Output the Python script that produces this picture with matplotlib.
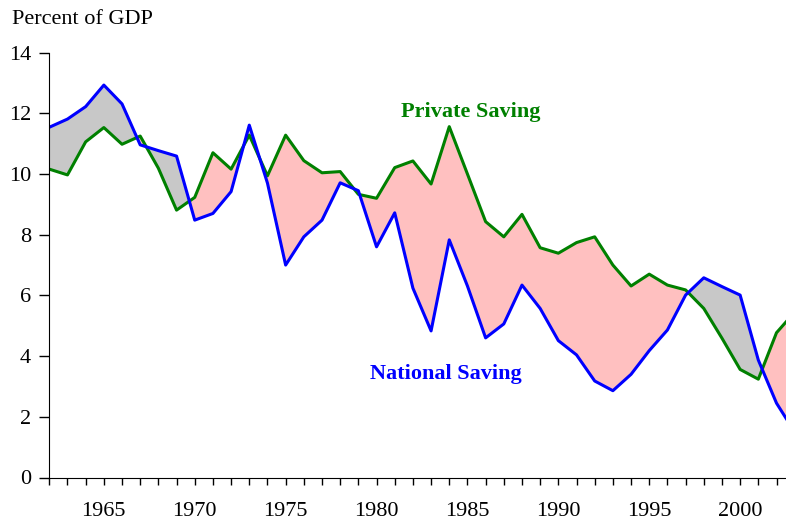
import numpy as np
import matplotlib.pyplot as plt
from matplotlib.ticker import MultipleLocator

############################################

years = np.arange(1962, 2004)
private = [10.16, 9.97, 11.06, 11.53, 10.98, 11.25, 10.19, 8.81, 9.23, 10.70,
           10.16, 11.28, 9.94, 11.28, 10.44, 10.04, 10.08, 9.33, 9.20, 10.21,
           10.43, 9.67, 11.56, 10.00, 8.43, 7.93, 8.67, 7.57, 7.39, 7.74,
           7.93, 7.00, 6.31, 6.70, 6.34, 6.18, 5.57, 4.59, 3.56, 3.24,
           4.77, 5.45]
national = [11.54, 11.81, 12.22, 12.93, 12.31, 10.96, 10.77, 10.59, 8.48, 8.70,
            9.42, 11.61, 9.70, 7.00, 7.93, 8.48, 9.71, 9.45, 7.60, 8.72,
            6.24, 4.83, 7.83, 6.31, 4.60, 5.06, 6.34, 5.57, 4.51, 4.04,
            3.18, 2.86, 3.40, 4.18, 4.86, 6.01, 6.58, 6.29, 6.01, 3.87,
            2.45, 1.50]

############################################

plt.rcParams['font.family'] = ['Liberation Serif', 'DejaVu Serif']

fig = plt.figure(figsize=(7.86, 5.21), dpi=100)
ax = fig.add_axes([49.3 / 786, (521 - 477.5) / 521, 1 - 49.3 / 786, (477.5 - 52.6) / 521])

p = np.array(private)
n = np.array(national)
ax.fill_between(years, p, n, where=n >= p, interpolate=True, color='#c8c8c8', lw=0)
ax.fill_between(years, p, n, where=p >= n, interpolate=True, color='#ffc0c0', lw=0)
ax.plot(years, private, color='#008000', lw=2.2)
ax.plot(years, national, color='#0000ff', lw=2.2)

ax.set_xlim(1962, 1962 + (786 - 49.3) / 18.18)
ax.set_ylim(0, 14)
ax.set_yticks(range(0, 15, 2))
ax.xaxis.set_major_locator(MultipleLocator(5))
ax.xaxis.set_minor_locator(MultipleLocator(1))
ax.tick_params(axis='x', which='both', direction='out', length=5, width=1, pad=13, labelsize=16)
ax.tick_params(axis='y', direction='out', length=7, width=1, pad=6, labelsize=16)

for s in ['top', 'right']:
    ax.spines[s].set_visible(False)

fig.text(12 / 786, 1 - 20 / 521, 'Percent of GDP', fontsize=16, va='center', ha='left')
ax.text(1985.2, 12.05, 'Private Saving', color='#008000', fontsize=16,
        fontweight='bold', ha='center', va='center')
ax.text(1983.8, 3.4, 'National Saving', color='#0000ff', fontsize=16,
        fontweight='bold', ha='center', va='center')

plt.savefig('out.png', dpi=100)
